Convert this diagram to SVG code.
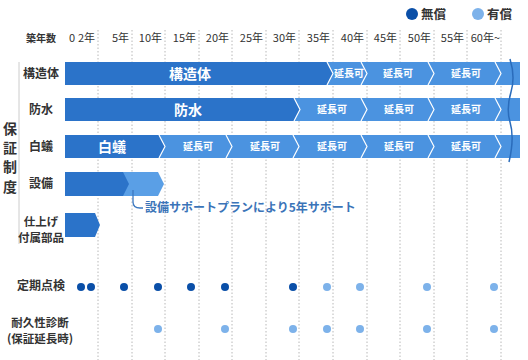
<svg xmlns="http://www.w3.org/2000/svg" width="528" height="360" viewBox="0 0 528 360">
<style>
text{font-family:"Noto Sans CJK JP","Noto Sans",sans-serif;font-weight:bold}
.lbl{font-size:12px;fill:#333;text-anchor:middle}
.yr{font-size:11px;fill:#333;text-anchor:end;font-weight:normal}
.bt{font-size:14px;fill:#fff;text-anchor:middle}
.ex{font-size:10px;fill:#fff;text-anchor:middle}
.grid{stroke:#b8b8b8;stroke-width:1;stroke-dasharray:1.5 2}
.dark{fill:#2b73c9}
.light{fill:#4b93e0}
.sep{fill:none;stroke:#fff;stroke-width:1.2}
.dk{fill:#0a4fa8}
.lt{fill:#7db2ea}
</style>
<rect width="528" height="360" fill="#fff"/>
<g id="grid">
<line class="grid" x1="98" y1="30" x2="98" y2="360"/>
<line class="grid" x1="132" y1="30" x2="132" y2="360"/>
<line class="grid" x1="165" y1="30" x2="165" y2="360"/>
<line class="grid" x1="199" y1="30" x2="199" y2="360"/>
<line class="grid" x1="232" y1="30" x2="232" y2="360"/>
<line class="grid" x1="266" y1="30" x2="266" y2="360"/>
<line class="grid" x1="299" y1="30" x2="299" y2="360"/>
<line class="grid" x1="333" y1="30" x2="333" y2="360"/>
<line class="grid" x1="367" y1="30" x2="367" y2="360"/>
<line class="grid" x1="400" y1="30" x2="400" y2="360"/>
<line class="grid" x1="434" y1="30" x2="434" y2="360"/>
<line class="grid" x1="467" y1="30" x2="467" y2="360"/>
<line class="grid" x1="501" y1="30" x2="501" y2="360"/>
</g>
<g id="legend">
<circle class="dk" cx="412" cy="14" r="6"/>
<text x="421" y="19" style="font-size:12.5px;fill:#333">無償</text>
<circle class="lt" cx="478" cy="14" r="6"/>
<text x="487" y="19" style="font-size:12.5px;fill:#333">有償</text>
</g>
<g id="axis">
<text class="lbl" x="41" y="42" style="font-size:10px">築年数</text>
<text class="yr" x="75" y="42">0</text>
<text class="yr" x="95" y="42">2年</text>
<text class="yr" x="129" y="42">5年</text>
<text class="yr" x="162" y="42">10年</text>
<text class="yr" x="196" y="42">15年</text>
<text class="yr" x="229" y="42">20年</text>
<text class="yr" x="263" y="42">25年</text>
<text class="yr" x="296" y="42">30年</text>
<text class="yr" x="330" y="42">35年</text>
<text class="yr" x="364" y="42">40年</text>
<text class="yr" x="397" y="42">45年</text>
<text class="yr" x="431" y="42">50年</text>
<text class="yr" x="464" y="42">55年</text>
<text class="yr" x="500" y="42">60年~</text>
</g>
<g id="warranty-label">
<line x1="19" y1="62" x2="19" y2="244" stroke="#ccc" stroke-width="1"/>
<text class="lbl" x="10" y="134" style="font-size:14px">保</text>
<text class="lbl" x="10" y="153" style="font-size:14px">証</text>
<text class="lbl" x="10" y="172" style="font-size:14px">制</text>
<text class="lbl" x="10" y="192" style="font-size:14px">度</text>
</g>
<g id="row-structure">
<text class="lbl" x="41" y="78">構造体</text>
<rect class="light" x="65" y="62" width="455" height="23"/>
<polygon class="dark" points="65,62 327,62 333,73.5 327,85 65,85"/>
<polyline class="sep" points="327,62 333,73.5 327,85"/>
<polyline class="sep" points="361,62 367,73.5 361,85"/>
<polyline class="sep" points="428,62 434,73.5 428,85"/>
<polyline class="sep" points="495,62 501,73.5 495,85"/>
<text class="bt" x="190" y="79">構造体</text>
<text class="ex" x="349" y="77">延長可</text>
<text class="ex" x="398" y="77">延長可</text>
<text class="ex" x="466" y="77">延長可</text>
</g>
<g id="row-waterproof">
<text class="lbl" x="41" y="114">防水</text>
<rect class="light" x="65" y="98" width="455" height="23"/>
<polygon class="dark" points="65,98 294,98 300,109.5 294,121 65,121"/>
<polyline class="sep" points="294,98 300,109.5 294,121"/>
<polyline class="sep" points="361,98 367,109.5 361,121"/>
<polyline class="sep" points="428,98 434,109.5 428,121"/>
<polyline class="sep" points="495,98 501,109.5 495,121"/>
<text class="bt" x="188" y="115">防水</text>
<text class="ex" x="332" y="113">延長可</text>
<text class="ex" x="399" y="113">延長可</text>
<text class="ex" x="466" y="113">延長可</text>
</g>
<g id="row-termite">
<text class="lbl" x="41" y="151">白蟻</text>
<rect class="light" x="65" y="135" width="455" height="23"/>
<polygon class="dark" points="65,135 159,135 165,146.5 159,158 65,158"/>
<polyline class="sep" points="159,135 165,146.5 159,158"/>
<polyline class="sep" points="226,135 232,146.5 226,158"/>
<polyline class="sep" points="293,135 299,146.5 293,158"/>
<polyline class="sep" points="361,135 367,146.5 361,158"/>
<polyline class="sep" points="428,135 434,146.5 428,158"/>
<polyline class="sep" points="495,135 501,146.5 495,158"/>
<text class="bt" x="112" y="152">白蟻</text>
<text class="ex" x="198" y="150">延長可</text>
<text class="ex" x="265" y="150">延長可</text>
<text class="ex" x="332" y="150">延長可</text>
<text class="ex" x="399" y="150">延長可</text>
<text class="ex" x="466" y="150">延長可</text>
</g>
<g id="wave">
<path d="M510,59 C514,72 514,82 511,92 C508,102 507,112 510,122 C513,132 513,145 509,162" fill="none" stroke="#2a6cbb" stroke-width="1.5"/>
</g>
<g id="row-equipment">
<text class="lbl" x="41" y="188">設備</text>
<polygon points="65,172 158,172 164,184 158,196 65,196" fill="#5a9fe6"/>
<polygon class="dark" points="65,172 123,172 129,184 123,196 65,196"/>
</g>
<g id="row-finish">
<text class="lbl" x="41" y="226" style="font-size:11.5px">仕上げ</text>
<text class="lbl" x="41" y="242" style="font-size:11.5px">付属部品</text>
<polygon class="dark" points="65,213 95,213 100,225 95,237 65,237"/>
</g>
<g id="connectors">
<path d="M133,190 V202 Q133,208 140,208 H143" fill="none" stroke="#3b78c0" stroke-width="1.3"/>
</g>
<g id="callout">
<text x="145" y="212" style="font-size:12px;fill:#3b74b8">設備サポートプランにより5年サポート</text>
</g>
<g id="row-inspection">
<text class="lbl" x="41" y="290">定期点検</text>
<circle class="dk" cx="81" cy="287" r="4"/>
<circle class="dk" cx="91" cy="287" r="4"/>
<circle class="dk" cx="124" cy="287" r="4"/>
<circle class="dk" cx="158" cy="287" r="4"/>
<circle class="dk" cx="191" cy="287" r="4"/>
<circle class="dk" cx="225" cy="287" r="4"/>
<circle class="dk" cx="293" cy="287" r="4"/>
<circle class="lt" cx="327" cy="287" r="4"/>
<circle class="lt" cx="360" cy="287" r="4"/>
<circle class="lt" cx="427" cy="287" r="4"/>
<circle class="lt" cx="494" cy="287" r="4"/>
</g>
<g id="row-diagnosis">
<text class="lbl" x="40" y="327" style="font-size:11.5px">耐久性診断</text>
<text class="lbl" x="40" y="343" style="font-size:11.5px">(保証延長時)</text>
<circle class="lt" cx="158" cy="329" r="4"/>
<circle class="lt" cx="225" cy="329" r="4"/>
<circle class="lt" cx="293" cy="329" r="4"/>
<circle class="lt" cx="327" cy="329" r="4"/>
<circle class="lt" cx="360" cy="329" r="4"/>
<circle class="lt" cx="427" cy="329" r="4"/>
<circle class="lt" cx="494" cy="329" r="4"/>
</g>
</svg>
